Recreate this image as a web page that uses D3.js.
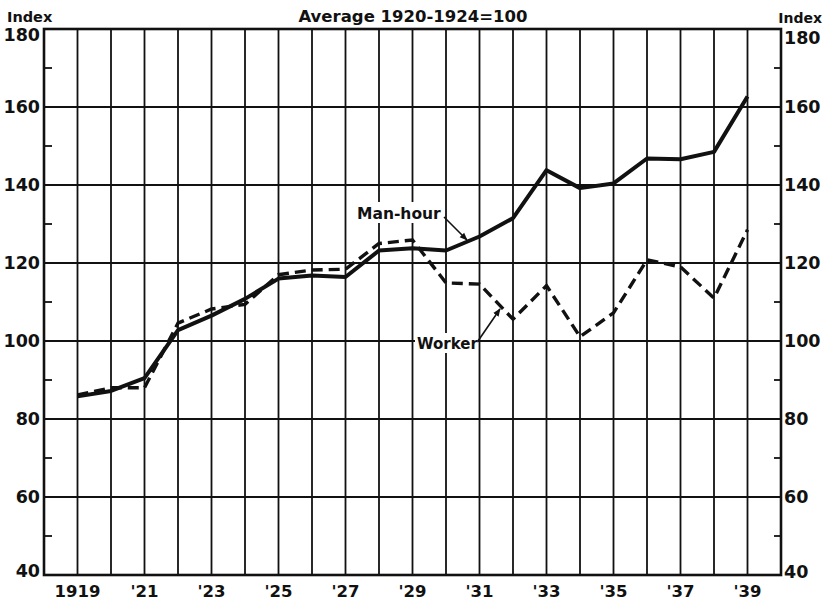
<!DOCTYPE html>
<html>
<head>
<meta charset="utf-8">
<script src="https://cdn.jsdelivr.net/npm/d3@7"></script>
<style>
  body { margin: 0; background: #fff; }
  svg text { font-family: "DejaVu Sans", sans-serif; font-weight: bold; fill: #111; }
</style>
</head>
<body>
<svg id="chart"></svg>
<script>
const years = d3.range(1919, 1940);
const manHour = [85.8, 87.2, 90.5, 102.8, 106.5, 110.8, 116.0, 116.8, 116.4, 123.2, 123.8, 123.2, 126.8, 131.5, 143.8, 139.2, 140.4, 146.8, 146.6, 148.5, 162.7];
const worker = [86.2, 88.0, 88.0, 104.6, 108.2, 109.4, 117.0, 118.2, 118.4, 125.0, 125.9, 114.9, 114.6, 105.6, 114.2, 101.1, 107.2, 120.8, 119.0, 111.0, 128.5];
const yTicks = [40, 60, 80, 100, 120, 140, 160, 180];
const yMinor = [50, 70, 90, 110, 130, 150, 170];
const xLabels = [[1919, "1919"], [1921, "'21"], [1923, "'23"], [1925, "'25"], [1927, "'27"], [1929, "'29"], [1931, "'31"], [1933, "'33"], [1935, "'35"], [1937, "'37"], [1939, "'39"]];

const width = 823, height = 601;
const plotLeft = 44, plotRight = 781, plotTop = 29, plotBottom = 575;

const svg = d3.select("#chart").attr("width", width).attr("height", height);

const x = d3.scaleLinear().domain([1918, 1940]).range([plotLeft, plotRight]);
const y = d3.scaleLinear().domain([40, 180]).range([plotBottom, plotTop]);

// vertical grid
svg.append("g").selectAll("line")
  .data(years)
  .enter().append("line")
  .attr("x1", d => x(d)).attr("x2", d => x(d))
  .attr("y1", plotTop).attr("y2", plotBottom)
  .attr("stroke", "#111").attr("stroke-width", 1.8);

// horizontal grid
svg.append("g").selectAll("line")
  .data(yTicks.slice(1, -1))
  .enter().append("line")
  .attr("x1", plotLeft).attr("x2", plotRight)
  .attr("y1", d => y(d)).attr("y2", d => y(d))
  .attr("stroke", "#111").attr("stroke-width", 1.8);

// minor ticks on both borders
const minor = svg.append("g");
minor.selectAll(".ml")
  .data(yMinor).enter().append("line")
  .attr("x1", plotLeft).attr("x2", plotLeft + 8)
  .attr("y1", d => y(d)).attr("y2", d => y(d))
  .attr("stroke", "#111").attr("stroke-width", 1.8);
minor.selectAll(".mr")
  .data(yMinor).enter().append("line")
  .attr("x1", plotRight - 7).attr("x2", plotRight)
  .attr("y1", d => y(d)).attr("y2", d => y(d))
  .attr("stroke", "#111").attr("stroke-width", 1.8);

// frame
svg.append("rect")
  .attr("x", plotLeft).attr("y", plotTop)
  .attr("width", plotRight - plotLeft).attr("height", plotBottom - plotTop)
  .attr("fill", "none").attr("stroke", "#111").attr("stroke-width", 2.6);

// series
const line = d3.line().x((d, i) => x(years[i])).y(d => y(d));

svg.append("path")
  .datum(worker)
  .attr("d", line)
  .attr("fill", "none").attr("stroke", "#111")
  .attr("stroke-width", 3.4)
  .attr("stroke-dasharray", "11,6");

svg.append("path")
  .datum(manHour)
  .attr("d", line)
  .attr("fill", "none").attr("stroke", "#111")
  .attr("stroke-width", 4)
  .attr("stroke-linejoin", "round");

// y labels
svg.append("g").selectAll("text")
  .data(yTicks).enter().append("text")
  .attr("x", 40).attr("y", d => y(d) + (d === 180 ? 5.5 : d === 40 ? -4 : 0))
  .attr("text-anchor", "end").attr("dominant-baseline", "central")
  .style("font-size", "17.5px")
  .text(d => d);
svg.append("g").selectAll("text")
  .data(yTicks).enter().append("text")
  .attr("x", 784).attr("y", d => y(d) + (d === 180 ? 8.5 : d === 40 ? -3 : 0))
  .attr("text-anchor", "start").attr("dominant-baseline", "central")
  .style("font-size", "17.5px")
  .text(d => d);

// x labels
svg.append("g").selectAll("text")
  .data(xLabels).enter().append("text")
  .attr("x", d => x(d[0])).attr("y", 597)
  .attr("text-anchor", "middle")
  .style("font-size", "16.5px")
  .text(d => d[1]);

// headers
svg.append("text").attr("x", 7).attr("y", 22).style("font-size", "14.5px").text("Index");
svg.append("text").attr("x", 822).attr("y", 23).attr("text-anchor", "end").style("font-size", "14px").text("Index");
svg.append("text").attr("x", 413).attr("y", 22).attr("text-anchor", "middle").style("font-size", "16.5px").text("Average 1920-1924=100");

// annotations
svg.append("defs").append("marker")
  .attr("id", "arrow").attr("viewBox", "0 0 10 10")
  .attr("refX", 9).attr("refY", 5)
  .attr("markerWidth", 5).attr("markerHeight", 5)
  .attr("orient", "auto")
  .append("path").attr("d", "M0,1 L10,5 L0,9 Z").attr("fill", "#111");

svg.append("rect").attr("x", 355).attr("y", 202).attr("width", 90).attr("height", 21).attr("fill", "#fff");
svg.append("text").attr("x", 357).attr("y", 219).style("font-size", "15.5px").text("Man-hour");
svg.append("line")
  .attr("x1", 444).attr("y1", 217).attr("x2", 467).attr("y2", 240)
  .attr("stroke", "#111").attr("stroke-width", 1.6)
  .attr("marker-end", "url(#arrow)");

svg.append("rect").attr("x", 415).attr("y", 333).attr("width", 63).attr("height", 20).attr("fill", "#fff");
svg.append("text").attr("x", 417).attr("y", 349).style("font-size", "15px").text("Worker");
svg.append("line")
  .attr("x1", 478).attr("y1", 341).attr("x2", 500).attr("y2", 309)
  .attr("stroke", "#111").attr("stroke-width", 1.6)
  .attr("marker-end", "url(#arrow)");
</script>
</body>
</html>
